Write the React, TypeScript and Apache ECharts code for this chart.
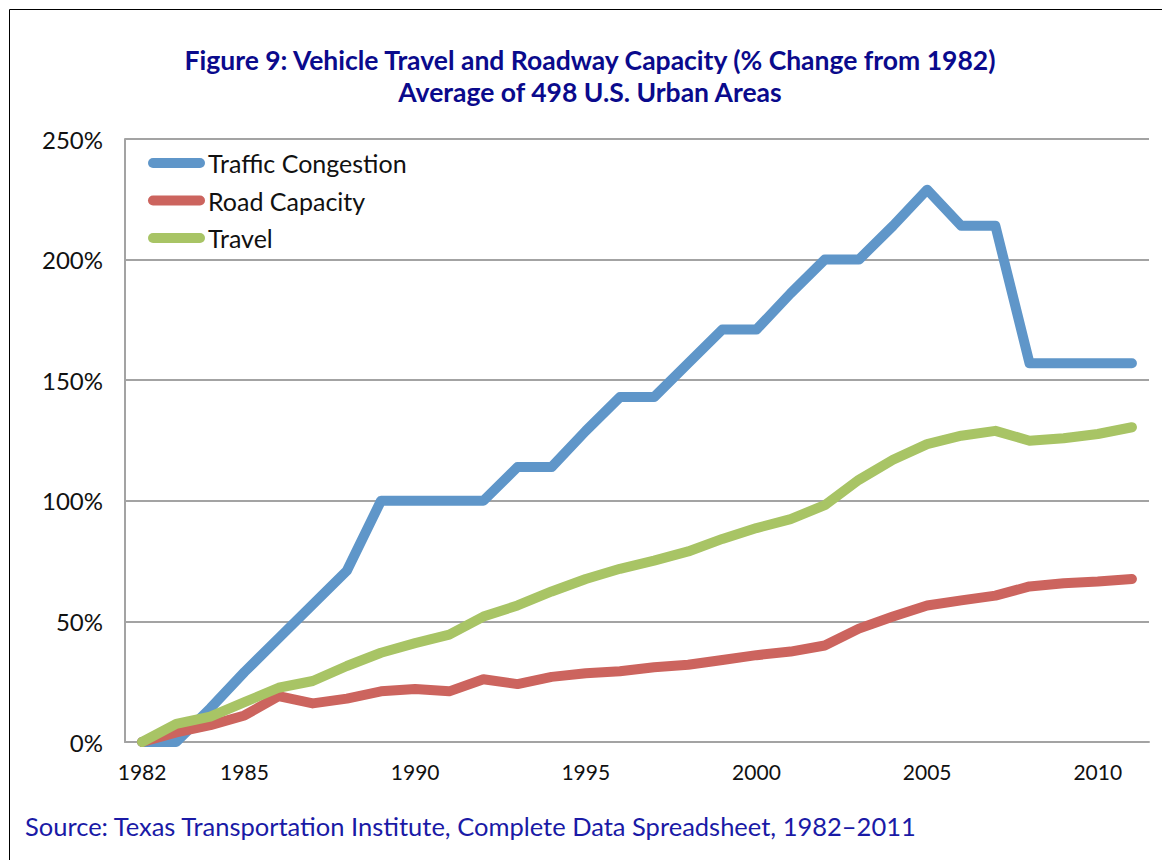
import React, { useEffect, useRef } from "react";
import * as echarts from "echarts";

const years = [
  "1982", "1983", "1984", "1985", "1986", "1987", "1988", "1989", "1990", "1991",
  "1992", "1993", "1994", "1995", "1996", "1997", "1998", "1999", "2000", "2001",
  "2002", "2003", "2004", "2005", "2006", "2007", "2008", "2009", "2010", "2011",
];

const trafficCongestion = [
  0, 0, 14, 29, 43, 57, 71, 100, 100, 100,
  100, 114, 114, 129, 143, 143, 157, 171, 171, 186,
  200, 200, 214, 229, 214, 214, 157, 157, 157, 157,
];

const roadCapacity = [
  0, 4, 7, 11, 19, 16, 18, 21, 22, 21,
  26, 24, 27, 28.5, 29.3, 31, 32, 34, 36, 37.5,
  40, 47, 52, 56.6, 58.7, 60.7, 64.5, 65.8, 66.5, 67.6,
];

const travel = [
  0, 7.5, 10.5, 16.5, 22.5, 25.3, 31.5, 37, 41, 44.5,
  52, 56.6, 62.4, 67.6, 71.8, 75.2, 79, 84.2, 88.7, 92.4,
  98.2, 108.7, 117, 123.5, 127, 129, 124.9, 125.9, 127.7, 130.5,
];

const seriesNames = ["Traffic Congestion", "Road Capacity", "Travel"];
const seriesColors = ["#5F96C9", "#CC645E", "#A8C465"];
const yTicks = [0, 50, 100, 150, 200, 250];

const titleLine1 = "Figure 9: Vehicle Travel and Roadway Capacity (% Change from 1982)";
const titleLine2 = "Average of 498 U.S. Urban Areas";
const sourceText = "Source: Texas Transportation Institute, Complete Data Spreadsheet, 1982–2011";

export default function App() {
  const ref = useRef<HTMLDivElement>(null);

  useEffect(() => {
    document.body.style.margin = "0";
    if (!ref.current) return;
    const chart = echarts.init(ref.current, undefined, { renderer: "svg" });
    const font = "Lato, 'Open Sans', sans-serif";
    const gridColor = "#A3A3A3";
    const seriesData = [trafficCongestion, roadCapacity, travel];

    chart.setOption({
      animation: false,
      backgroundColor: "#ffffff",
      color: seriesColors,
      textStyle: { fontFamily: font },
      grid: { left: 125, right: 13, top: 139, bottom: 118, containLabel: false },
      legend: {
        orient: "vertical",
        left: 148,
        top: 149,
        padding: 0,
        itemWidth: 57,
        itemHeight: 10,
        itemGap: 9.5,
        icon: "path://M5 0H52A5 5 0 0 1 52 10H5A5 5 0 0 1 5 0Z",
        data: seriesNames,
        textStyle: { fontSize: 25, color: "#111", fontFamily: font, lineHeight: 24, padding: [4, 0, 0, -2] },
      },
      xAxis: {
        type: "category",
        data: years,
        boundaryGap: true,
        axisTick: { show: false },
        axisLine: { show: true, lineStyle: { color: gridColor, width: 2 } },
        axisLabel: {
          interval: (index: number, value: string) => value === "1982" || Number(value) % 5 === 0,
          fontSize: 21,
          color: "#111",
          margin: 19,
          fontFamily: font,
        },
        splitLine: { show: false },
      },
      yAxis: {
        type: "value",
        min: yTicks[0],
        max: yTicks[yTicks.length - 1],
        interval: 50,
        axisLine: { show: true, lineStyle: { color: gridColor, width: 2 } },
        axisTick: { show: false },
        axisLabel: {
          formatter: "{value}%",
          fontSize: 24,
          color: "#111",
          margin: 22,
          fontFamily: font,
        },
        splitLine: { show: true, lineStyle: { color: gridColor, width: 2 } },
      },
      series: seriesNames.map((name, i) => ({
        name,
        type: "line",
        data: seriesData[i],
        symbol: "none",
        showSymbol: false,
        clip: true,
        lineStyle: { width: 10, color: seriesColors[i], cap: "round", join: "round" },
        itemStyle: { color: seriesColors[i] },
      })),
      graphic: [
        {
          type: "rect",
          silent: true,
          shape: { x: 9.5, y: 9.5, width: 1300, height: 1000 },
          style: { fill: "none", stroke: "#000", lineWidth: 1 },
        },
        {
          type: "text",
          x: 590,
          y: 60,
          style: {
            text: titleLine1,
            fontSize: 26.5,
            fontWeight: "bold",
            fontFamily: font,
            fill: "#0A0A8C",
            textAlign: "center",
            textVerticalAlign: "middle",
          },
        },
        {
          type: "text",
          x: 590,
          y: 92,
          style: {
            text: titleLine2,
            fontSize: 26.5,
            fontWeight: "bold",
            fontFamily: font,
            fill: "#0A0A8C",
            textAlign: "center",
            textVerticalAlign: "middle",
          },
        },
        {
          type: "text",
          x: 25,
          y: 826,
          style: {
            text: sourceText,
            fontSize: 25.5,
            fontFamily: font,
            fill: "#1A1AA6",
            textAlign: "left",
            textVerticalAlign: "middle",
          },
        },
      ],
    });

    return () => chart.dispose();
  }, []);

  return <div ref={ref} style={{ width: 1162, height: 860 }} />;
}
